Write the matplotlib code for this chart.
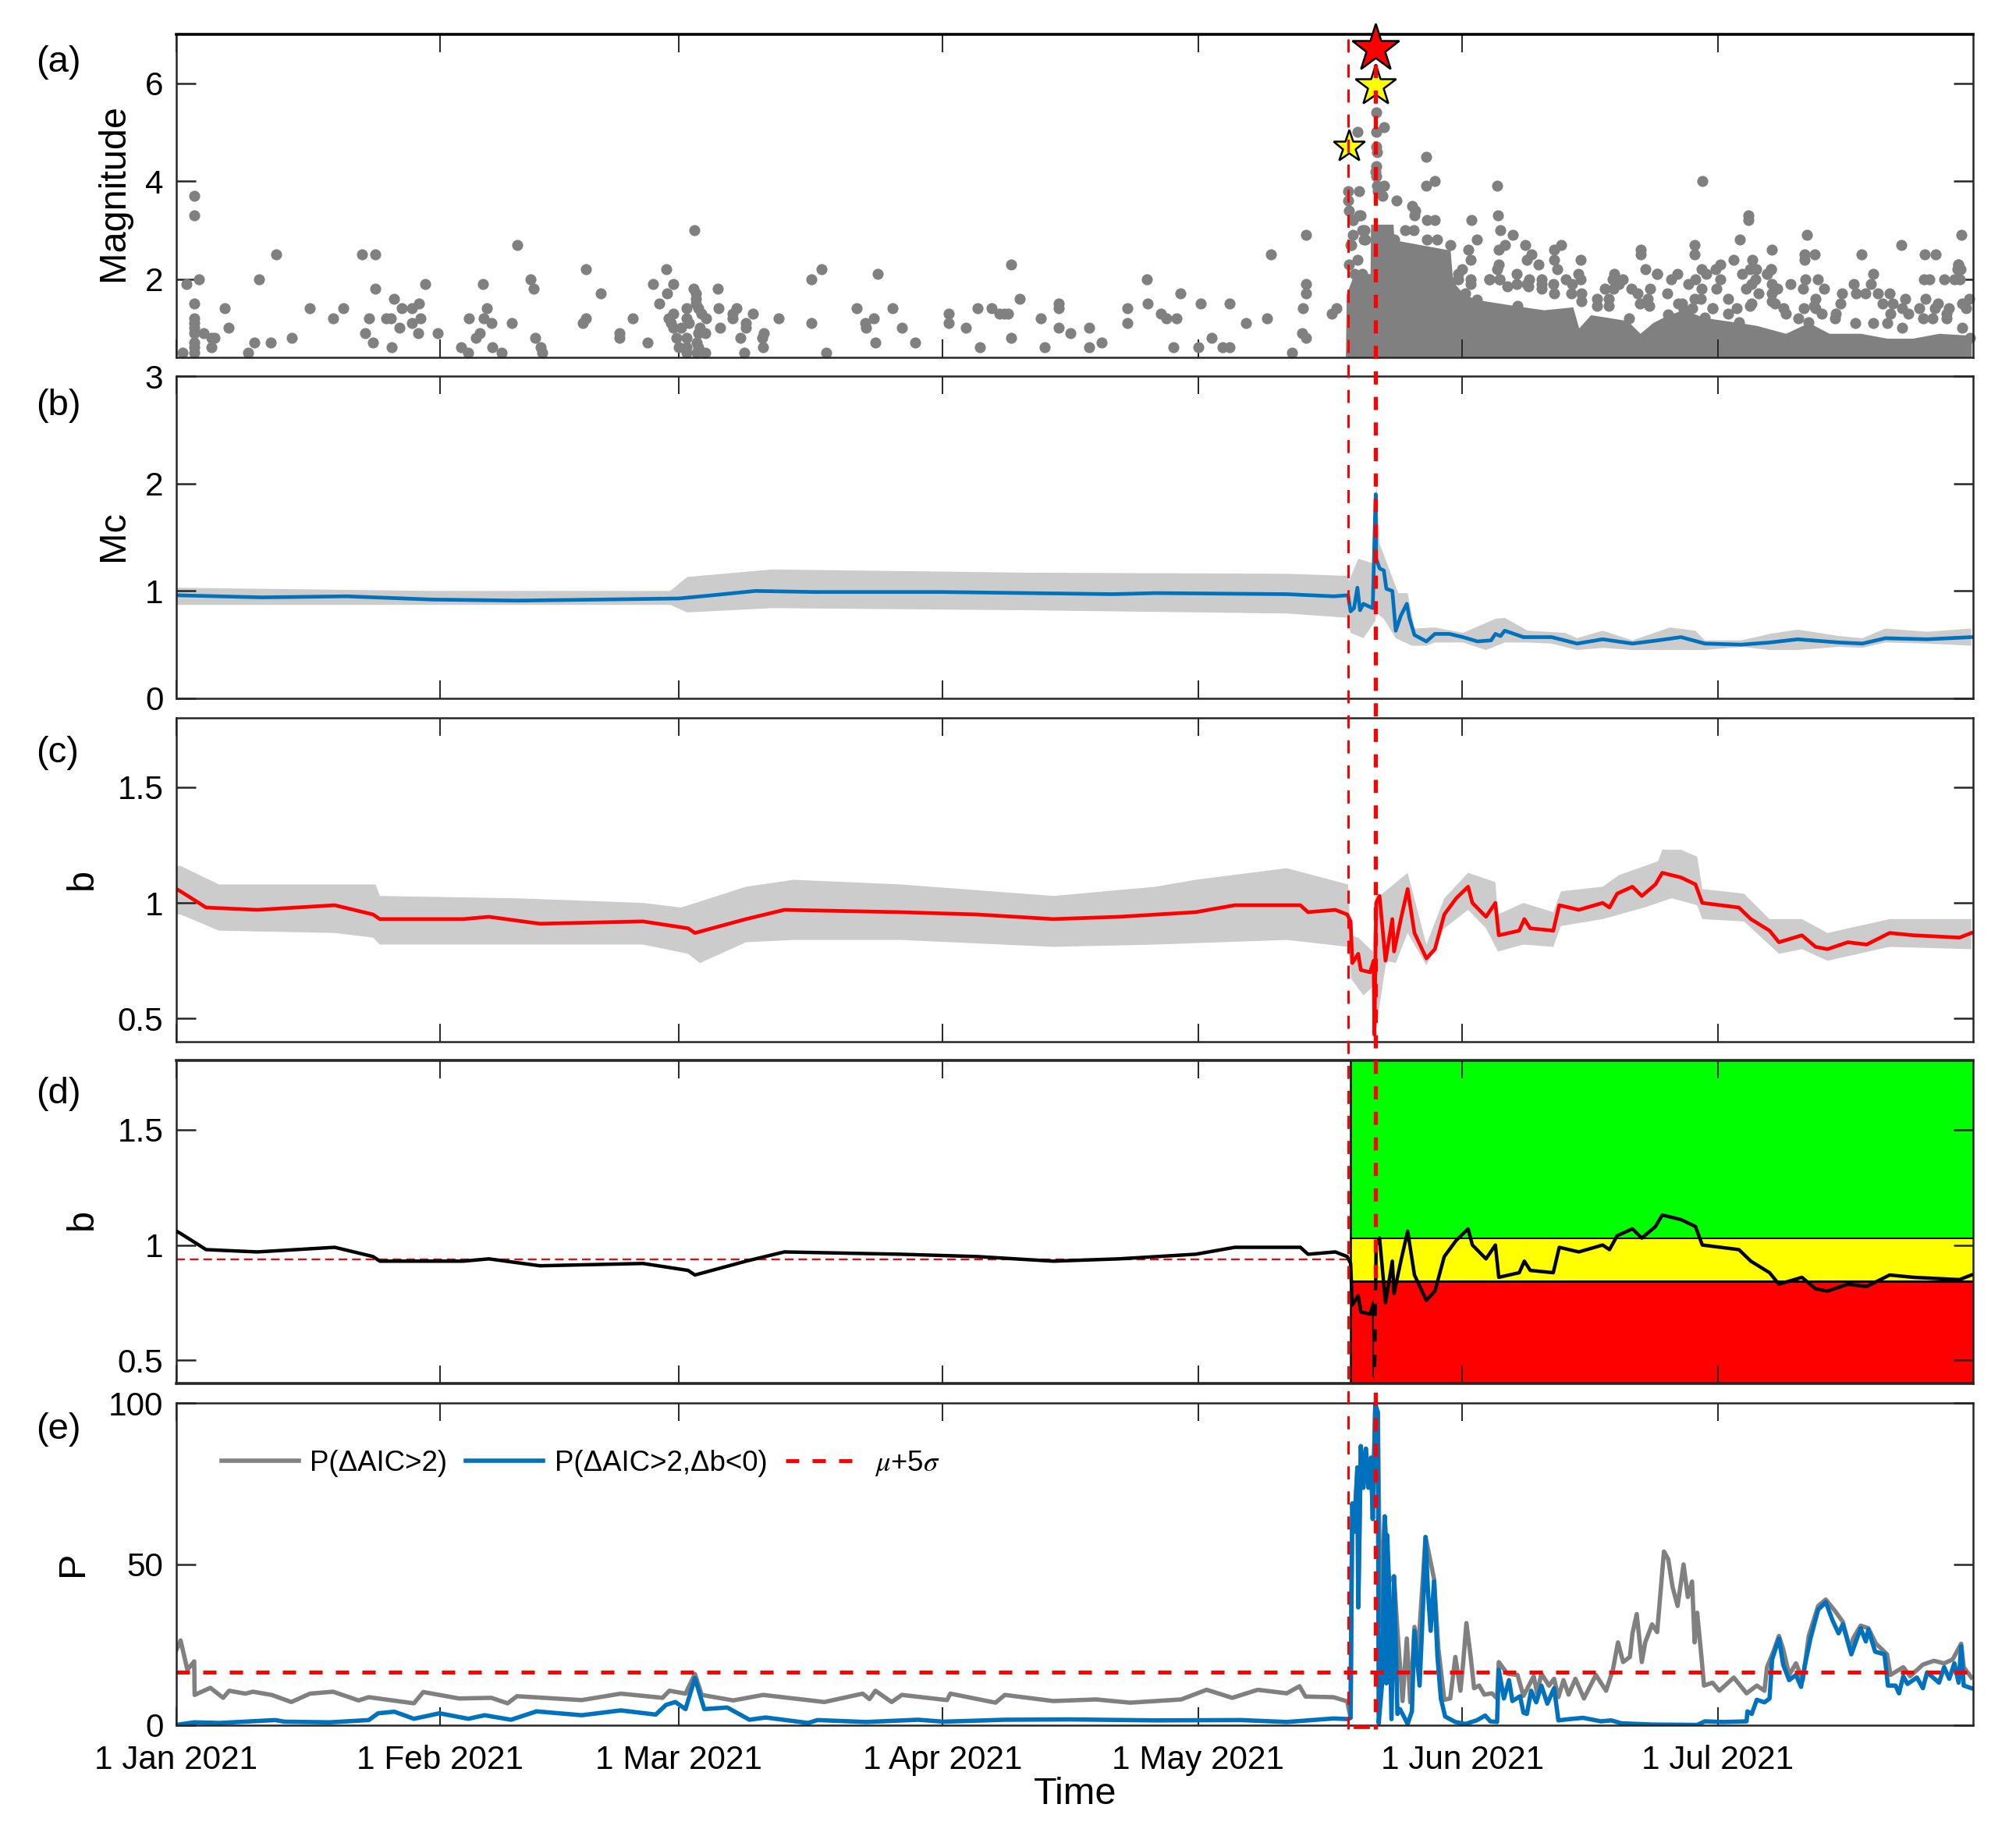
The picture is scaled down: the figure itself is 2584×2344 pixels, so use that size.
#!/usr/bin/env python
"""Five stacked time panels: catalogue, Mc, b-value, traffic light b-value, probabilities."""
import numpy as np
import matplotlib
matplotlib.use("Agg")
import matplotlib.pyplot as plt

plt.rcParams["font.family"] = ["Liberation Sans", "DejaVu Sans"]
plt.rcParams["mathtext.fontset"] = "stix"

W, H = 2584, 2344
DAY_END = 211.0

# x axis is days since 1 Jan 2021
tick_days = [0, 31, 59, 90, 120, 151, 181]
tick_labels = ["1 Jan 2021", "1 Feb 2021", "1 Mar 2021", "1 Apr 2021", "1 May 2021", "1 Jun 2021", "1 Jul 2021"]
foreshock_day = 137.6
mainshock_day = 140.8

# (a) catalogue, sparse part before the sequence
ev_days = [2.1, 2.1, 1.2, 2.7, 2.1, 2.1, 2.1, 2.1, 2.1, 2.1, 2.1, 2.1, 0.7, 3.2, 4.1, 4.5, 4.1, 5.7, 6.1, 8.4,
           9.2, 9.7, 11.1, 11.7, 13.6, 15.7, 18.4, 19.6, 21.8, 23.4, 22.2, 22.6, 23.1, 23.4, 25.3, 24.6, 25.2,
           25.6, 26.2, 26.5, 27.7, 28.5, 27.7, 28.7, 28.4, 29.2, 30.7, 33.4, 34.3, 34.4, 35.2, 35.6, 36.0, 36.1,
           36.5, 37.0, 37.1, 38.2, 39.4, 40.0, 41.6, 42.0, 42.1, 42.8, 43.0, 47.7, 48.1, 48.1, 49.8, 52.0, 52.0,
           53.6, 55.3, 56.0, 57.5, 57.6, 58.4, 56.7, 60.7, 61.0, 61.0, 61.0, 61.3, 59.9, 58.4, 57.8, 59.9, 61.7,
           62.2, 58.1, 60.2, 61.5, 58.4, 59.3, 62.1, 61.3, 58.7, 59.9, 61.1, 59.0, 59.9, 61.3, 59.9, 61.1, 62.1,
           63.6, 63.7, 63.9, 65.3, 65.3, 65.8, 66.9, 66.9, 67.7, 66.2, 66.7, 60.8, 69.0, 68.8, 68.9, 70.7,
           74.6, 75.8, 74.6, 76.3, 79.9, 82.4, 81.9, 80.9, 81.0, 84.1, 82.1, 85.2, 86.8, 90.7, 90.7, 92.7, 94.1,
           94.4, 95.7, 96.7, 97.2, 97.7, 98.0, 98.0, 99.0, 101.5, 102.0, 103.6, 103.6, 103.6, 105.0, 107.2, 107.2,
           108.7, 111.7, 111.7, 114.0, 114.1, 115.6, 116.3, 117.5, 117.1, 117.9, 120.3, 120.0, 121.6, 122.9, 123.7,
           123.7, 125.6, 128.1, 128.5, 132.7, 132.7, 132.7, 132.3, 132.2, 132.7, 131.0, 135.7, 136.2]
ev_mags = [3.7, 3.3, 1.9, 2.0, 1.5, 1.2, 1.1, 1.0, 0.9, 0.7, 0.6, 0.5, 0.5, 0.9, 0.8, 0.8, 0.6, 1.4, 1.0, 0.5,
           0.7, 2.0, 0.7, 2.5, 0.8, 1.4, 1.2, 1.4, 2.5, 2.5, 0.9, 1.2, 0.7, 1.8, 0.6, 1.2, 1.2,
           1.6, 1.0, 1.4, 1.4, 1.5, 1.1, 1.2, 0.9, 1.9, 0.9, 0.6, 0.5, 1.2, 0.8, 0.9, 1.9, 1.2,
           1.4, 1.1, 0.6, 0.5, 1.1, 2.7, 2.0, 1.8, 0.8, 0.6, 0.5, 1.1, 1.2, 2.2, 1.7, 0.9, 0.8,
           1.2, 0.7, 1.9, 2.2, 1.7, 1.9, 1.5, 1.8, 1.7, 1.6, 1.5, 1.4, 1.4, 1.3, 1.2, 1.2, 1.3,
           1.2, 1.1, 1.1, 1.0, 1.0, 1.0, 0.9, 0.9, 0.8, 0.8, 0.7, 0.6, 0.6, 0.6, 0.5, 0.5, 0.5,
           1.8, 1.4, 1.0, 1.3, 1.2, 1.4, 1.1, 1.0, 1.3, 0.8, 0.5, 3.0, 0.9, 0.8, 0.6, 1.2,
           2.0, 2.2, 1.1, 0.5, 1.4, 2.1, 1.2, 1.1, 1.0, 1.4, 0.7, 1.0, 0.7, 1.3, 1.1, 1.0, 1.4,
           0.6, 1.4, 1.3, 1.3, 1.3, 2.3, 0.8, 1.6, 1.2, 0.6, 1.5, 1.4, 1.0, 0.9, 1.0, 0.6,
           0.7, 1.4, 1.1, 2.0, 1.5, 1.3, 1.2, 1.2, 0.6, 1.7, 1.5, 0.6, 0.8, 0.6, 0.6,
           1.5, 1.1, 1.2, 2.5, 2.9, 1.9, 1.7, 1.4, 0.9, 0.8, 0.5, 1.3, 1.4]

# (a) isolated events of the sequence, above the solid mass
seq_days = [137.6, 138.9, 138.7, 140.9, 141.8, 140.9, 140.9, 141.0, 140.9, 140.8, 140.9, 141.0, 141.1, 141.8, 141.6,
            137.6, 137.7, 138.9, 138.2, 139.3, 137.9, 139.6, 138.2, 138.7, 137.7, 139.1, 138.2, 139.5, 138.0, 139.4,
            146.8, 147.8, 146.8, 155.1, 179.2, 143.3, 145.1, 145.5, 145.4, 146.9, 147.8, 152.1, 155.2, 184.6, 184.6,
            144.3, 145.3, 155.5, 156.9, 146.9, 148.1, 152.7, 191.5, 209.6, 183.6, 178.3, 202.6, 158.4, 162.6, 156.0,
            149.6, 151.7, 161.8, 155.3, 172.0, 172.0, 187.4, 159.1, 178.3, 191.2, 192.4, 197.9, 205.3, 206.6, 158.6,
            161.8, 164.9, 182.9, 185.1, 191.2, 152.0, 160.0, 155.3, 181.3, 209.3, 162.2, 172.5, 179.1, 180.8, 155.1,
            157.4, 164.6, 168.9, 173.9, 176.3, 183.9, 186.8, 199.3, 150.5, 164.9, 168.7, 169.9, 160.3, 163.2, 152.0,
            150.5, 154.2, 158.9, 155.4, 175.5, 178.4, 181.3, 185.5, 187.3, 184.8, 185.4, 187.4, 185.0, 188.0, 184.3,
            167.8, 169.4, 170.9, 171.6, 168.8, 166.8, 168.2, 171.9, 173.1, 172.8, 163.9, 165.0, 161.7, 157.4, 160.3,
            158.6, 152.0, 177.6, 180.9, 179.1, 179.0, 178.3, 175.1, 182.2, 185.8, 187.4, 189.6, 191.0, 191.3, 192.8,
            193.5, 192.5, 195.6, 195.4, 197.0, 199.0, 197.3, 198.4, 199.8, 201.2, 203.0, 200.4, 201.6, 205.4, 205.9,
            205.2, 207.6, 208.8, 209.4, 209.3, 209.5, 209.2, 210.5, 206.9, 206.5, 204.7, 202.7, 201.3, 203.4, 194.9,
            185.0, 183.2, 180.4, 176.8, 178.0, 208.2, 209.7, 210.2, 206.2, 207.9, 193.2, 190.5, 191.1, 192.5, 188.7,
            187.7, 151.0, 173.9, 186.8, 187.3, 179.7]
seq_mags = [3.8, 3.8, 5.0, 5.4, 5.1, 5.0, 4.7, 4.6, 4.3, 4.2, 4.1, 3.9, 3.8, 3.9, 3.7,
            3.6, 3.4, 3.3, 3.2, 3.0, 2.7, 2.8, 2.9, 2.4, 2.3, 3.3, 3.2, 3.0, 2.7, 2.8,
            4.5, 4.0, 3.9, 3.9, 4.0, 3.6, 3.5, 3.4, 3.3, 3.2, 3.2, 3.2, 3.3, 3.3, 3.2,
            3.0, 3.0, 3.0, 2.9, 2.8, 2.8, 2.8, 2.9, 2.9, 2.8, 2.7, 2.7, 2.7, 2.7, 2.7,
            2.7, 2.6, 2.6, 2.6, 2.6, 2.5, 2.6, 2.5, 2.5, 2.5, 2.5, 2.5, 2.5, 2.5, 2.4,
            2.4, 2.4, 2.4, 2.4, 2.4, 2.4, 2.3, 2.3, 2.3, 2.3, 2.2, 2.2, 2.2, 2.2, 2.2,
            2.1, 2.1, 2.1, 2.1, 2.1, 2.1, 2.1, 2.1, 2.1, 2.0, 2.0, 2.0, 2.0, 2.0, 2.0,
            2.0, 2.0, 2.0, 2.0, 2.0, 2.0, 2.0, 2.2, 2.2, 2.2, 2.0, 1.9, 1.9, 1.8, 1.8,
            1.8, 1.9, 1.8, 1.7, 1.8, 1.6, 1.6, 1.5, 1.8, 1.6, 1.9, 1.7, 1.9, 1.9, 1.9,
            1.9, 1.9, 1.9, 1.8, 1.8, 1.6, 1.6, 1.7, 1.6, 1.7, 1.7, 1.9, 1.8, 2.0, 2.0,
            1.8, 1.6, 1.7, 1.5, 1.9, 1.9, 1.7, 1.7, 1.7, 1.7, 1.6, 1.5, 1.5, 1.6, 2.0,
            2.0, 2.0, 2.0, 2.0, 2.3, 2.2, 2.2, 1.6, 1.5, 1.4, 1.4, 1.4, 1.3, 1.3, 1.3,
            1.5, 1.4, 1.4, 1.5, 1.4, 1.4, 1.5, 1.4, 1.2, 1.3, 1.3, 1.2, 1.4, 1.4, 1.4,
            1.5, 2.2, 2.1, 2.1, 2.2, 2.1]

# (a) dots sitting on the upper edge of the solid mass
edge_days = [144.3, 145.9, 147.5, 148.7, 149.6, 151.4, 154.2, 155.4, 156.3, 158.8, 160.3, 161.8, 163.8, 165.0, 166.8,
             168.2, 170.6, 173.0, 176.4, 180.4, 182.2, 184.8, 187.4, 189.0, 192.3, 194.8, 197.2, 199.3, 200.9, 202.7,
             205.1, 207.9, 209.7, 210.6, 138.3, 139.3, 143.0, 152.7, 157.5, 175.2, 177.0, 179.5, 183.5, 191.7]
edge_mags = [2.6, 2.5, 2.45, 2.1, 1.95, 1.7, 2.0, 2.0, 1.85, 1.85, 1.8, 1.7, 1.7, 1.55, 1.45,
             1.45, 1.2, 1.45, 1.5, 1.4, 1.3, 1.45, 1.55, 1.3, 1.45, 1.2, 1.1, 1.1, 1.1, 1.0,
             1.2, 1.2, 1.0, 0.8, 2.11, 2.11, 2.8, 1.58, 1.45, 1.27, 1.37, 1.21, 1.11, 1.11]

# (a) upper edge of the part where the dots merge into a solid mass
mass_days = [137.3, 137.4, 138.3, 140.2, 140.25, 142.9, 143.0, 149.6, 149.9, 151.2, 152.7, 154.5, 158.2, 160.6,
             164.0, 164.7, 166.1, 170.4, 171.9, 173.4, 175.2, 177.0, 179.5, 183.5, 185.6, 189.0, 191.7, 194.1,
             197.8, 200.9, 203.9, 207.0, 210.8]
mass_tops = [0.4, 1.69, 2.11, 2.11, 3.12, 3.12, 2.8, 2.59, 1.95, 1.69, 1.58, 1.53, 1.43, 1.37,
             1.43, 1.0, 1.27, 1.15, 0.89, 1.11, 1.27, 1.37, 1.21, 1.11, 1.05, 0.89, 1.11, 0.89,
             0.89, 0.79, 0.79, 0.89, 0.85]

# (a) large events
star_days = [foreshock_day + 0.1, mainshock_day, mainshock_day]
star_mags = [4.7, 5.95, 6.72]

# (b) completeness magnitude
mc_days = [0, 5, 10, 20, 30, 40, 50, 59, 63, 68, 75, 90, 100, 110, 115, 130.4, 135.9, 137.6, 137.9, 138.3, 138.7,
           139.0, 139.4, 140.2, 140.5, 140.8, 140.85, 140.9, 141.3, 141.8, 142.1, 142.8, 143.2, 143.8, 144.5, 144.8,
           145.4, 146.8, 147.8, 149.5, 151.1, 152.8, 154.4, 154.9, 155.5, 156.0, 158.2, 161.5, 164.5, 167.5, 171.0,
           174.0, 176.7, 179.5, 183.8, 187.1, 190.4, 195.3, 198.0, 200.7, 205.6, 210.8]
mc_vals = [0.96, 0.95, 0.94, 0.95, 0.92, 0.91, 0.92, 0.93, 0.96, 1.0, 0.99, 0.99, 0.98, 0.97, 0.98, 0.97, 0.95, 0.96,
           0.81, 0.84, 1.03, 0.82, 0.88, 0.85, 0.84, 1.79, 1.9, 1.3, 1.21, 1.19, 1.02, 1.0, 0.63, 0.77, 0.88, 0.75,
           0.59, 0.53, 0.6, 0.6, 0.57, 0.53, 0.54, 0.6, 0.58, 0.63, 0.57, 0.57, 0.51, 0.55, 0.51,
           0.54, 0.57, 0.51, 0.5, 0.52, 0.55, 0.52, 0.51, 0.56, 0.55, 0.57]
mc_up_days = [0, 30, 58, 60, 70, 100, 130.4, 137.6, 137.7, 138.8, 140.8, 140.9, 141.3, 143.5, 144.6, 145.4, 147.8,
              151.1, 154.9, 156.0, 158.7, 163.1, 164.5, 167.5, 171.0, 175.4, 178.4, 179.5, 183.8, 187.1, 190.4,
              195.3, 198.0, 200.7, 205.6, 210.8]
mc_up = [1.03, 1.0, 1.0, 1.13, 1.2, 1.17, 1.16, 1.14, 1.09, 1.3, 1.25, 2.04, 1.44, 0.98, 0.98, 0.65, 0.66,
         0.61, 0.74, 0.75, 0.63, 0.61, 0.56, 0.63, 0.54, 0.66, 0.63, 0.54, 0.54, 0.6, 0.64,
         0.58, 0.56, 0.65, 0.62, 0.65]
mc_lo_days = [0, 30, 58, 60, 70, 100, 130.4, 137.6, 137.9, 139.4, 140.8, 140.9, 141.8, 143.2, 145.1, 146.8, 147.8,
              151.1, 153.8, 156.0, 158.7, 161.5, 164.5, 167.5, 171.0, 175.4, 179.5, 183.8, 187.1, 190.4, 195.3,
              198.0, 200.7, 205.6, 210.8]
mc_lo = [0.87, 0.87, 0.87, 0.8, 0.84, 0.82, 0.79, 0.75, 0.61, 0.56, 0.72, 0.8, 0.74, 0.56, 0.49, 0.49, 0.52,
         0.52, 0.45, 0.52, 0.52, 0.51, 0.45, 0.47, 0.45, 0.45, 0.45, 0.48, 0.45, 0.45, 0.48,
         0.47, 0.52, 0.51, 0.49]

# (c, d) b value
b_days = [0, 0.5, 3.5, 9.5, 18.6, 23.1, 23.9, 33.7, 36.7, 42.7, 54.8, 60.1, 60.9, 66.9, 71.4, 85, 94, 103, 110.7,
          119.7, 124.3, 130.4, 132.0, 132.9, 136.1, 137.5, 137.9, 138.1, 138.8, 139.1, 140.2, 140.6, 140.7, 140.9,
          141.3, 142.0, 142.8, 143.0, 143.8, 144.6, 145.4, 146.8, 147.8, 148.9, 150.3, 151.7, 152.2, 153.8, 154.9,
          155.3, 157.7, 158.3, 159.0, 161.7, 162.4, 164.7, 167.5, 168.3, 169.2, 171.0, 172.1, 173.7, 174.5, 176.7,
          178.4, 179.2, 183.5, 184.9, 187.1, 188.2, 190.9, 192.5, 193.9, 196.3, 198.5, 201.2, 204.0, 209.4, 210.8]
b_vals = [1.06, 1.05, 0.98, 0.97, 0.99, 0.95, 0.93, 0.93, 0.94, 0.91, 0.92, 0.89, 0.87, 0.93, 0.97, 0.96, 0.95,
          0.93, 0.94, 0.96, 0.99, 0.99, 0.99, 0.96, 0.97, 0.95, 0.92, 0.74, 0.78, 0.71, 0.70, 0.75, 0.43, 1.0,
          1.03, 0.75, 0.93, 0.79, 0.93, 1.06, 0.87, 0.76, 0.8, 0.95, 1.02, 1.07, 1.0, 0.94, 1.0,
          0.86, 0.88, 0.93, 0.89, 0.88, 0.99, 0.97, 1.0, 0.98, 1.04, 1.07, 1.03, 1.08, 1.13, 1.11,
          1.08, 1.0, 0.98, 0.93, 0.88, 0.83, 0.86, 0.81, 0.8, 0.83, 0.82, 0.87, 0.86, 0.85, 0.87]
b_up_days = [0, 0.5, 5, 18.6, 23.4, 23.9, 40, 54.8, 59.3, 66.9, 72.5, 85, 103, 115, 119.7, 130.4, 137.6, 137.9, 138.8,
             140.5, 140.8, 141.3, 144.6, 146.8, 148.9, 151.7, 154.9, 155.2, 158.2, 161.7, 162.6, 167.5, 169.4,
             174.0, 174.5, 176.7, 178.6, 179.2, 184.1, 187.1, 190.9, 193.9, 201.2, 210.8]
b_up = [1.16, 1.16, 1.08, 1.08, 1.08, 1.03, 1.02, 1.0, 0.98, 1.07, 1.1, 1.08, 1.03, 1.07, 1.1, 1.15, 1.08, 0.86, 0.85,
        0.79, 1.03, 1.03, 1.13, 0.82, 1.02, 1.13, 1.09, 0.95, 1.0, 0.96, 1.05, 1.07, 1.12,
        1.18, 1.23, 1.23, 1.2, 1.06, 1.04, 0.93, 0.93, 0.87, 0.93, 0.93]
b_lo_days = [0, 0.5, 5, 18.6, 23.1, 23.9, 40, 54.8, 60.1, 61.5, 66.9, 72.5, 85, 103, 115, 130.4, 137.6, 138.0, 139.4,
             140.6, 140.7, 142.1, 143.2, 144.6, 146.8, 148.9, 151.7, 153.8, 155.2, 158.2, 161.7, 162.6, 167.5,
             172.4, 175.6, 178.6, 179.2, 184.1, 188.2, 190.9, 193.9, 201.2, 210.8]
b_lo = [0.95, 0.95, 0.88, 0.87, 0.85, 0.82, 0.82, 0.82, 0.78, 0.74, 0.83, 0.84, 0.84, 0.81, 0.82, 0.84, 0.81, 0.67, 0.6,
        0.64, 0.41, 0.75, 0.74, 0.87, 0.73, 0.89, 0.97, 0.89, 0.79, 0.82, 0.81, 0.9, 0.93,
        0.98, 1.02, 0.99, 0.93, 0.92, 0.78, 0.8, 0.75, 0.81, 0.8]

# (d) traffic light thresholds
zone_red_top = 0.843
zone_yellow_top = 1.03
b_reference = 0.939

# (e) grey curve: quiet months, then the spike it shares with the blue curve, then its own part
p_pre_days = [0, 0.5, 1.3, 2.1, 2.15, 4, 5.5, 6.2, 8.1, 9, 11.2, 13.5, 15.7, 18.4, 21.4, 22.6, 27.9, 29, 33.2, 37, 38.9,
              40, 47.6, 52.2, 57.1, 57.9, 59.8, 60.9, 61.7, 65.4, 68.9, 74.2, 76.1, 80.6, 81.4, 82.1, 84, 85.2, 90.5,
              90.9, 96.2, 97.3, 103, 108, 112, 118, 121, 124, 127, 130.4, 131.9, 132.6, 135.9, 137.5]
p_pre = [23.3, 26.3, 17.2, 19.8, 9.4, 11.6, 8.5, 10.7, 9.8, 10.4, 9.4, 7.2, 9.8, 10.4, 7.7, 8.7, 6.8, 10.3, 8.3, 8.5, 6.8,
         9, 7.8, 9.8, 8.5, 10.7, 9.8, 15.9, 9.4, 7.7, 9.4, 7.8, 7.2, 9.8, 8.1, 10.7, 7.2, 9.4, 7.8,
         9.8, 7, 9.4, 7.5, 8, 7, 8, 11, 8.5, 11, 9.9, 12.1, 8.9, 8.7, 7.4]
spike_days = [137.9, 138.0, 138.1, 138.3, 138.7, 138.8, 139.0, 139.1, 139.4, 139.7, 140.0, 140.3, 140.5, 140.8, 141.1]
spike_vals = [2.3, 39, 68.8, 60, 80, 36.6, 69.7, 86.6, 73.7, 85.8, 73.7, 83, 64, 99.5, 97]
p_post_days = [141.4, 141.9, 142.4, 143.0, 143.4, 144.0, 144.5, 144.9, 145.4, 145.8, 146.7, 147.7, 148.2, 148.9, 149.6,
               150.2, 150.8, 151.1, 151.5, 152.0, 152.4, 153.0, 153.6, 154.5, 155.1, 155.3, 156.3, 157.5, 158.2,
               159.4, 159.8, 160.3, 161.2, 161.8, 162.3, 162.9, 163.5, 164.3, 165.3, 166.7, 167.9, 168.7, 169.3,
               169.9, 170.7, 171.0, 171.5, 172.1, 172.5, 173.3, 173.9, 174.7, 175.2, 175.7, 176.3, 177.0, 177.5,
               178.0, 178.3, 178.6, 179.1, 179.4, 180.4, 181.2, 182.9, 184.4, 185.6, 186.5, 186.8, 187.6, 188.2,
               188.7, 189.4, 190.2, 191.0, 191.7, 192.8, 193.7, 194.8, 195.7, 196.6, 196.9, 197.8, 198.7, 199.6,
               200.9, 201.3, 202.8, 203.6, 205.1, 206.4, 207.6, 208.6, 209.6, 209.9, 210.8]
p_post = [30.9, 64.8, 44.6, 46.2, 29.3, 7.5, 26.9, 7.1, 30.5, 22, 58.4, 45.4, 24, 7.9, 8.3,
          21.2, 10.7, 18.8, 31.7, 21.2, 11.5, 12.3, 9.5, 9.9, 8.3, 19.6, 16, 15.6, 9.1,
          15.2, 9.9, 16, 12.3, 14.4, 8.7, 14, 9.5, 14.4, 8.3, 15.6, 10.7, 17.2, 25.7,
          19.6, 21.2, 28.5, 34.5, 19.6, 25.7, 31.3, 28.9, 53.9, 51.5, 43, 37, 49.9, 39.8,
          44.6, 25.7, 34.9, 21.2, 12.3, 13.2, 10.7, 14.8, 9.9, 12.3, 10.7, 18, 23.2, 27.7,
          23.6, 15.6, 19.2, 14, 27.7, 37, 39, 35.4, 32.1, 23.2, 26.9, 30.9, 30.1, 25.3,
          22, 15.6, 18, 15.2, 18.8, 20, 19.2, 20.4, 25.3, 18, 14.8]

# (e) blue curve
pneg_pre_days = [0, 2.1, 5.1, 11.6, 12.7, 18, 22.6, 23.7, 25.6, 27.9, 30.9, 34.3, 36.2, 39.3, 42.3, 47.6, 52.2, 56.3,
                 57.5, 58.6, 59.8, 60.9, 62, 64.7, 67.3, 69.2, 74.2, 75.3, 81, 87.1, 90.1, 97.3, 105, 115, 125, 130.4,
                 135.9, 137.6]
pneg_pre = [0.1, 0.9, 0.7, 1.6, 1.1, 0.9, 1.6, 3.7, 4.2, 2, 3.7, 2, 3.1, 1.7, 4.3, 3.1, 4.6, 3.3,
            6.3, 7.2, 5, 14.6, 5, 5.5, 1.7, 2.4, 0.7, 1.6, 1, 1.7, 1.1, 1.7, 1.8, 1.5, 1.6, 1,
            2.1, 1.9]
pneg_post_days = [141.2, 141.6, 141.9, 142.1, 142.2, 142.4, 142.7, 143.0, 143.4, 143.7, 144.6, 145.1, 145.4, 146.0, 146.4,
                  146.7, 147.0, 147.3, 147.7, 148.1, 148.5, 149.0, 150.2, 151.4, 152.7, 153.7, 154.3, 155.1, 155.3,
                  155.9, 156.5, 156.9, 157.8, 158.2, 158.6, 159.1, 159.7, 160.3, 161.0, 161.8, 162.3, 163.6, 165.2,
                  167.3, 168.5, 169.7, 173.4, 178.6, 179.5, 181.6, 184.4, 184.5, 185.0, 185.6, 186.5, 187.1, 187.4,
                  188.2, 188.7, 189.4, 190.2, 190.8, 191.2, 191.9, 192.8, 193.7, 194.5, 195.2, 195.7, 196.7, 197.8,
                  198.4, 198.7, 199.5, 200.6, 201.0, 201.9, 202.3, 202.8, 203.3, 204.4, 205.1, 205.6, 207.0, 207.6,
                  208.2, 208.8, 209.3, 209.6, 209.9, 210.8]
pneg_post = [0.6, 13, 64.8, 13, 59, 44.6, 1.9, 46.2, 3.5, 5, 0.4, 4.3, 29.3, 12.3, 36.6,
             58.4, 40.6, 29.3, 44.6, 21.2, 8.3, 2.7, 1, 0.4, 1.5, 3, 1.2, 1, 17.2,
             8.3, 14, 7.5, 9, 3.9, 3.5, 10.7, 7.1, 12.3, 6.7, 11.5, 1.5, 1.9, 2.3,
             1.2, 1.5, 0.6, 0.2, 0.1, 1.2, 1, 1.2, 4.3, 3.5, 7.9, 7.1, 8.3, 20.4,
             26.9, 18.8, 14, 15.6, 11.9, 18, 26.9, 35.8, 38.2, 32.5, 28.5, 31.3, 22, 30.1,
             26, 29.7, 22.8, 22, 12.3, 12.3, 9.9, 15.2, 12.8, 14.8, 11.5, 16.4, 13.2, 18,
             14.4, 19.2, 13.2, 24.5, 12.3, 11.5]
p_threshold = 16.5

GREY = "#808080"
BLUE = "#0072BD"
BAND = "#CCCCCC"
RED = "#FF0000"
SPINE = "#262626"


def make_axes(top, bottom):
    ax = fig.add_axes([226 / W, 1 - bottom / H, 2303 / W, (bottom - top) / H])
    ax.set_xlim(0, DAY_END)
    ax.set_xticks(tick_days)
    ax.set_xticklabels([])
    ax.tick_params(axis="x", direction="in", top=True, length=8.3, width=0.7, color=SPINE, labelsize=15.2, pad=9)
    ax.tick_params(axis="y", direction="in", right=True, length=9, width=0.9, color=SPINE, labelsize=15.2, pad=6)
    for s in ax.spines.values():
        s.set_linewidth(0.9)
        s.set_color(SPINE)
    return ax


def band(ax, up_x, up_y, lo_x, lo_y):
    ax.fill(list(up_x) + list(lo_x)[::-1], list(up_y) + list(lo_y)[::-1], color=BAND, lw=0)


fig = plt.figure(figsize=(W / 200, H / 200), dpi=200)

# (a)
ax_a = make_axes(44, 458)
ax_a.fill_between(mass_days, 0.4, mass_tops, color=GREY, lw=0)
ax_a.scatter(ev_days + seq_days + edge_days, ev_mags + seq_mags + edge_mags, s=26, color=GREY, lw=0, clip_on=False,
             zorder=2)
ax_a.set_ylim(0.4, 7)
ax_a.set_yticks([2, 4, 6])
ax_a.spines["top"].set_linewidth(1.3)
ax_a.spines["top"].set_color("black")
star_sizes = [15.5, 20, 23]
star_cols = ["#FFFF00", "#FFFF00", RED]
for d, m, ms, c in zip(star_days, star_mags, star_sizes, star_cols):
    ax_a.plot([d], [m], marker="*", ms=ms, mfc=c, mec="black", mew=0.9, clip_on=False, zorder=4, ls="none")

# (b)
ax_b = make_axes(482, 895)
band(ax_b, mc_up_days, mc_up, mc_lo_days, mc_lo)
ax_b.plot(mc_days, mc_vals, color=BLUE, lw=1.7)
ax_b.set_ylim(0, 3)
ax_b.set_yticks([0, 1, 2, 3])

# (c)
ax_c = make_axes(920, 1335)
band(ax_c, b_up_days, b_up, b_lo_days, b_lo)
ax_c.plot(b_days, b_vals, color=RED, lw=1.7)
ax_c.set_ylim(0.4, 1.8)
ax_c.set_yticks([0.5, 1, 1.5])
ax_c.set_yticklabels(["0.5", "1", "1.5"])

# (d)
ax_d = make_axes(1359, 1773)
zone_start = foreshock_day + 0.3
ax_d.fill_between([zone_start, DAY_END], 1.8, zone_yellow_top, color="#00FF00", lw=0, zorder=1)
ax_d.fill_between([zone_start, DAY_END], zone_yellow_top, zone_red_top, color="#FFFF00", lw=0, zorder=1)
ax_d.fill_between([zone_start, DAY_END], zone_red_top, 0.4, color=RED, lw=0, zorder=1)
ax_d.plot([zone_start, DAY_END], [zone_yellow_top, zone_yellow_top], color="black", lw=0.7, zorder=1.5)
ax_d.plot([zone_start, DAY_END], [zone_red_top, zone_red_top], color="black", lw=1.1, zorder=1.5)
ax_d.plot([zone_start, zone_start], [0.4, 1.8], color="black", lw=0.9, zorder=1.5)
ax_d.plot([0, foreshock_day], [b_reference, b_reference], color=RED, lw=0.8, dashes=(5, 2.8))
ax_d.plot(b_days, b_vals, color="black", lw=1.6, zorder=3)
ax_d.set_ylim(0.4, 1.8)
ax_d.set_yticks([0.5, 1, 1.5])
ax_d.set_yticklabels(["0.5", "1", "1.5"])
ax_d.spines["top"].set_linewidth(1.3)
ax_d.spines["bottom"].set_linewidth(1.3)

# (e)
ax_e = make_axes(1798, 2211)
ax_e.plot(p_pre_days + spike_days + p_post_days, p_pre + spike_vals + p_post, color=GREY, lw=2.0,
          label="P(\u0394AIC>2)")
ax_e.plot(pneg_pre_days + spike_days + pneg_post_days, pneg_pre + spike_vals + pneg_post, color=BLUE, lw=2.0,
          label="P(\u0394AIC>2,\u0394b<0)")
ax_e.plot([0, DAY_END], [p_threshold, p_threshold], color=RED, lw=1.8, dashes=(3.4, 3.4), label=r"$\mu$+5$\sigma$")
ax_e.set_ylim(0, 100)
ax_e.set_yticks([0, 50, 100])
ax_e.set_xticklabels(tick_labels)
ax_e.legend(loc="center left", bbox_to_anchor=(0.025, 0.813), ncol=3, frameon=False, fontsize=13.2,
            borderpad=0, borderaxespad=0, handlelength=2.7, handletextpad=0.4, columnspacing=0.65)

# event lines run through all panels
ov = fig.add_axes([226 / W, 1 - 2216 / H, 2303 / W, (2216 - 50) / H])
ov.set_xlim(0, DAY_END)
ov.set_ylim(0, 1)
ov.axis("off")
ov.patch.set_alpha(0)
ov.plot([foreshock_day, foreshock_day], [1, 0], color=RED, lw=1.1, dashes=(5.5, 5.0), clip_on=False)
ov.plot([mainshock_day, mainshock_day], [1, 0], color=RED, lw=1.9, dashes=(3.2, 3.0), clip_on=False)
ov.plot([138.4, 139.9], [0.0015, 0.0015], color=RED, lw=1.7, clip_on=False)

# panel letters and axis titles
letters = [("(a)", 80), ("(b)", 520), ("(c)", 965), ("(d)", 1402), ("(e)", 1832)]
for s, y in letters:
    fig.text(46 / W, 1 - y / H, s, fontsize=17, ha="left", va="center")
ylabels = [("Magnitude", 145, 246), ("Mc", 145, 687), ("b", 105, 1126), ("b", 105, 1562), ("P", 94, 2004)]
for s, x, y in ylabels:
    fig.text(x / W, 1 - y / H, s, fontsize=17.5, rotation=90, ha="center", va="center")
fig.text(1378 / W, 1 - 2300 / H, "Time", fontsize=17.5, ha="center", va="center")

fig.savefig("out.png", dpi=200)
print("Wrote out.png")
